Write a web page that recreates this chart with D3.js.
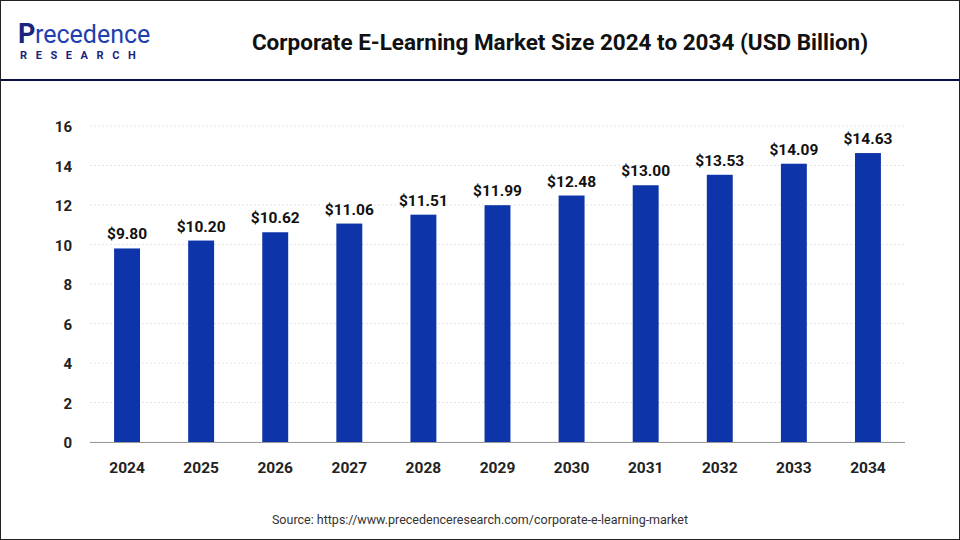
<!DOCTYPE html><html><head><meta charset="utf-8"><script src="https://cdn.jsdelivr.net/npm/d3@7"></script>
<style>body{margin:0}svg{display:block}</style></head><body><svg width="960" height="540"></svg><script>
const years=["2024","2025","2026","2027","2028","2029","2030","2031","2032","2033","2034"];
const values=[9.80,10.20,10.62,11.06,11.51,11.99,12.48,13.00,13.53,14.09,14.63];
const yTicks=[0,2,4,6,8,10,12,14,16];
const svg=d3.select("svg");
const F="Roboto, 'Liberation Sans', Arial, sans-serif";
svg.append("rect").attr("x",0.5).attr("y",0.5).attr("width",959).attr("height",539).attr("fill","#fff").attr("stroke","#222");
svg.append("rect").attr("x",1).attr("y",79).attr("width",958).attr("height",2).attr("fill","#0c0f4a");
// logo
svg.append("text").attr("x",18).attr("y",43).attr("font-family",F).attr("font-size",27).attr("fill","#1a237e").attr("font-weight","bold").text("P");
svg.append("text").attr("x",35).attr("y",43).attr("font-family",F).attr("font-size",25).attr("fill","#1e3fb0").text("recedence");
svg.append("text").attr("x",20).attr("y",59).attr("font-family",F).attr("font-size",11).attr("font-weight","bold").attr("letter-spacing",8.6).attr("fill","#1a237e").text("RESEARCH");
svg.append("text").attr("x",560).attr("y",50).attr("text-anchor","middle").attr("font-family",F).attr("font-size",22.5).attr("font-weight","bold").attr("fill","#111").text("Corporate E-Learning Market Size 2024 to 2034 (USD Billion)");
const x=d3.scaleBand().domain(years).range([90,905]).paddingInner(0.65).paddingOuter(0.325);
const y=d3.scaleLinear().domain([0,16]).range([442,126]);
const g=svg.append("g");
g.selectAll(".gl").data(yTicks).join("line").attr("x1",90).attr("x2",905).attr("y1",d=>y(d)).attr("y2",d=>y(d)).attr("stroke","#e6e6e6").attr("stroke-dasharray","2,2");
g.selectAll(".yt").data(yTicks).join("text").attr("x",72).attr("y",d=>y(d)+6).attr("text-anchor","end").attr("font-family",F).attr("font-size",15).attr("font-weight","bold").attr("fill","#222").text(d=>d);
g.selectAll(".b").data(values).join("rect").attr("x",(d,i)=>x(years[i])).attr("width",x.bandwidth()).attr("y",d=>y(d)).attr("height",d=>y(0)-y(d)).attr("fill","#0d34a8");
g.selectAll(".v").data(values).join("text").attr("x",(d,i)=>x(years[i])+x.bandwidth()/2).attr("y",d=>y(d)-9).attr("text-anchor","middle").attr("font-family",F).attr("font-size",15.5).attr("font-weight","bold").attr("fill","#111").text(d=>"$"+d.toFixed(2));
g.append("line").attr("x1",90).attr("x2",905).attr("y1",442.5).attr("y2",442.5).attr("stroke","#999");
g.selectAll(".xt").data(years).join("text").attr("x",d=>x(d)+x.bandwidth()/2).attr("y",473).attr("text-anchor","middle").attr("font-family",F).attr("font-size",15.5).attr("font-weight","bold").attr("fill","#222").text(d=>d);
svg.append("text").attr("x",480).attr("y",524).attr("text-anchor","middle").attr("font-family",F).attr("font-size",12.5).attr("fill","#333").text("Source: https://www.precedenceresearch.com/corporate-e-learning-market");
</script></body></html>
